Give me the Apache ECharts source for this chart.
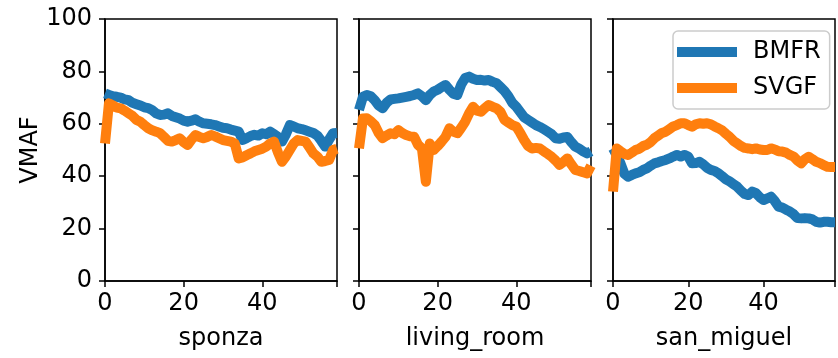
<!DOCTYPE html>
<html><head><meta charset="utf-8">
<script src="https://cdn.jsdelivr.net/npm/echarts@6/dist/echarts.min.js"></script>
<style>html,body{margin:0;padding:0;background:#fff}#c{width:838px;height:358px}</style>
</head><body><div id="c"></div>
<script>
const scenes = ['sponza', 'living_room', 'san_miguel'];
const seriesNames = ['BMFR', 'SVGF'];
const yTicks = [0, 20, 40, 60, 80, 100];
const xTicks = [0, 20, 40];

const sponzaBMFR = [71.6,71,70.5,70.3,70,69.3,69,68,67.5,67,66.3,66,65.2,64,63.4,63.5,64,63,62.5,62,61.2,60.8,61.2,61.7,60.8,60.2,60,59.8,59.5,59,58.5,58.3,57.8,57.4,57,53.8,54.5,55.3,55.8,55.5,56.4,56,57,56,55,53.2,56,59.5,59,58.3,58,57.5,57,56.5,55.5,53.5,51.3,54,56.4,56.5];
const sponzaSVGF = [52.5,67.8,67,66.2,65.9,65,64,63,61.5,60.8,59.5,58.3,57.5,57,56.4,55,53.5,53.2,53.8,54.5,53,51.9,54,55.7,55,54.5,55,55.7,55.2,54.5,53.8,53.5,53.2,52.5,46.8,47.2,48,48.7,49.5,50,50.5,51.3,52.5,53.2,49,45.5,47.5,50,52.5,53.8,53.5,53.2,51,48.7,47.5,45.5,45.8,46.2,50,50.5];
const livingBMFR = [65.3,70.3,71,70.5,69,67,65.9,68,69.3,69.5,69.7,70,70.3,70.6,71,71.6,70.5,69,71,72.3,73,74,74.8,73,71.5,71,75,77.5,78,77.2,76.7,76.8,76.5,76.7,76,75.5,74,72.5,70.5,68,66.5,64.5,62.5,61.5,60.5,59.5,58.8,58,57,56,54.5,54.3,54.8,55,53,51.3,50.5,49.5,48.7,49.5];
const livingSVGF = [50.6,62,62.1,61,59.5,56.5,54.5,55.5,56.4,56,57.6,56.5,55.7,55.2,55.1,52,50.6,37.9,52.5,50,51.5,53.2,55,58.3,57,56.4,58.5,60.8,64,66.5,65,64.6,66,67.2,66.5,65.9,64.5,61.5,60.5,59.5,58.9,56.5,53.8,51.5,50.6,50.8,50.6,49.5,48.5,47.4,46,44.3,45.5,46.8,44.5,42.4,42,41.5,41.1,44];
const sanmiguelBMFR = [50.6,48,44.9,41,39.8,40.5,41.1,41.5,42.4,43,44,44.9,45.3,45.8,46.2,46.8,47.5,48.1,47.5,48.1,47.5,44.9,45,45.5,44.5,43.2,42.4,42,41.1,40,38.8,38,37,36,34.5,33.2,32.8,34.1,33.5,32,30.9,31.5,32.2,30.5,28.4,28,27.2,26.5,25.5,24,23.9,24,23.9,23.5,22.6,22.3,22.6,22.6,22.4,22.4];
const sanmiguelSVGF = [34.1,50.6,49.5,48.5,48.1,49,50,50.5,51.5,52,53,54.5,55.5,56.5,57,58,59,59.5,60.2,60.2,59.5,58.9,59.8,60.2,60,60.2,59.8,59,58.3,57.5,56.2,55,53.5,52.5,51.5,50.8,50.6,50.3,50.6,50.2,50,50,50.6,50.2,49.5,49.4,49,48.1,47.5,46,44.9,46.5,47.4,46.5,45.5,45,44.2,43.6,43.5,43.5];

const panelData = [[sponzaBMFR, sponzaSVGF],[livingBMFR, livingSVGF],[sanmiguelBMFR, sanmiguelSVGF]];
const colors = ['#1f77b4', '#ff7f0e'];
const FONT = 'DejaVu Sans';
const lefts = [105, 359, 613];

const grids = [], xAxes = [], yAxes = [], series = [];
scenes.forEach((name, p) => {
  grids.push({left: lefts[p], top: 19, width: 232, height: 262, show: true, borderColor: '#000', borderWidth: 1.5, backgroundColor: 'transparent', containLabel: false});
  xAxes.push({type: 'value', gridIndex: p, min: 0, max: 59, interval: 20,
    name: name, nameLocation: 'middle', nameGap: 46,
    nameTextStyle: {fontFamily: FONT, fontSize: 24, color: '#000'},
    axisLine: {show: true, onZero: false, lineStyle: {color: '#000', width: 1.5}},
    axisTick: {show: true, length: 6, lineStyle: {color: '#000', width: 1.5}},
    axisLabel: {show: true, margin: 11, fontFamily: FONT, fontSize: 24, color: '#000',
      formatter: v => xTicks.includes(v) ? String(v) : ''},
    splitLine: {show: false}});
  yAxes.push({type: 'value', gridIndex: p, min: 0, max: 100, interval: 20,
    name: p === 0 ? 'VMAF' : '', nameLocation: 'middle', nameGap: 61, nameRotate: 90,
    nameTextStyle: {fontFamily: FONT, fontSize: 24, color: '#000'},
    axisLine: {show: true, onZero: false, lineStyle: {color: '#000', width: 1.5}},
    axisTick: {show: true, length: 6, lineStyle: {color: '#000', width: 1.5}},
    axisLabel: {show: p === 0, margin: 13, fontFamily: FONT, fontSize: 24, color: '#000',
      formatter: v => yTicks.includes(v) ? String(v) : ''},
    splitLine: {show: false}});
  panelData[p].forEach((vals, s) => {
    series.push({type: 'line', name: seriesNames[s], xAxisIndex: p, yAxisIndex: p,
      data: vals.map((v, i) => [i, v]), showSymbol: false, symbol: 'none',
      clip: true, color: colors[s],
      lineStyle: {width: 10, color: colors[s], join: 'round', cap: 'butt'},
      z: 2 + s});
  });
});

const chart = echarts.init(document.getElementById('c'), null, {renderer: 'canvas'});
chart.setOption({
  animation: false,
  backgroundColor: '#fff',
  grid: grids, xAxis: xAxes, yAxis: yAxes, series: series,
  legend: {data: seriesNames, orient: 'vertical', left: 673, top: 31,
    icon: 'rect', itemWidth: 60, itemHeight: 10, itemGap: 10,
    padding: [8, 9, 8, 4],
    backgroundColor: 'rgba(255,255,255,0.8)', borderColor: '#cccccc', borderWidth: 1.5, borderRadius: 5,
    textStyle: {fontFamily: FONT, fontSize: 24, color: '#000', lineHeight: 26, padding: [0, 0, 0, 11]},
    z: 10}
});
</script></body></html>
